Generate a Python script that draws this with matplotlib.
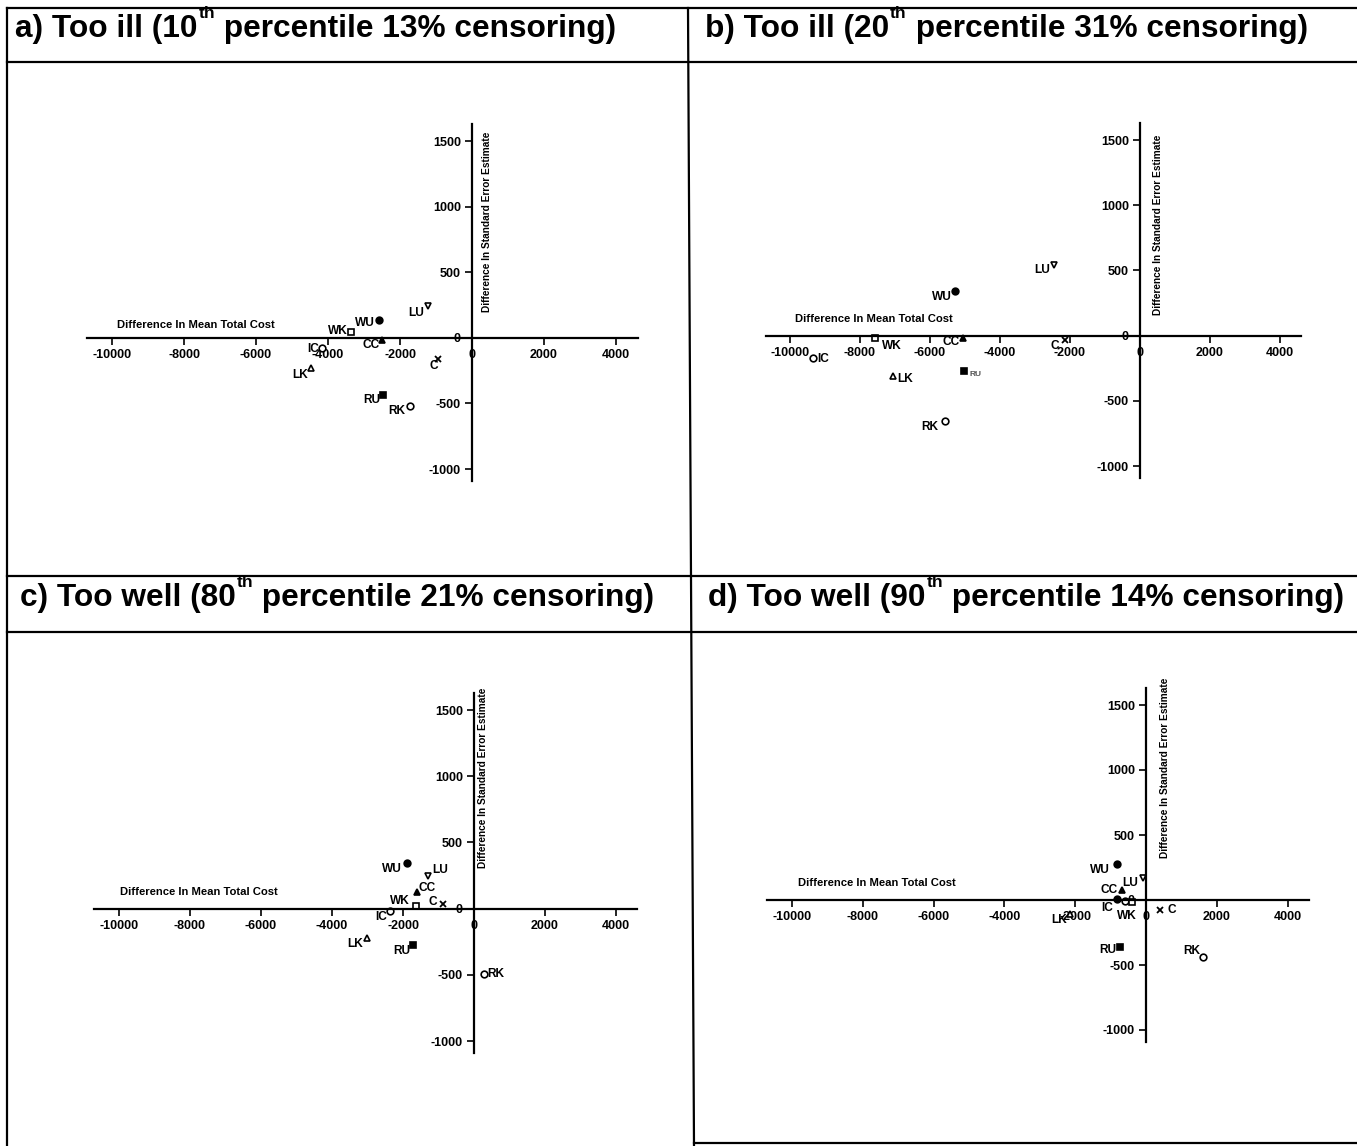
import matplotlib
matplotlib.use("Agg")
import matplotlib.pyplot as plt
from matplotlib.lines import Line2D

W, H = 1357, 1146
FONT = "Liberation Sans"

# ---- data: (difference in mean total cost, difference in SE estimate) ----
labels_a = ["WU", "LU", "WK", "CC", "IC", "LK", "RU", "RK", "C"]
cost_a = [-2580, -1220, -3360, -2500, -4170, -4470, -2470, -1720, -940]
se_a = [135, 245, 45, -15, -80, -230, -435, -520, -160]

labels_b = ["LU", "WU", "WK", "CC", "IC", "LK", "RU", "RK", "C"]
cost_b = [-2460, -5290, -7570, -5060, -9340, -7060, -5030, -5570, -2140]
se_b = [540, 340, -20, -20, -170, -310, -270, -655, -35]

labels_c = ["WU", "LU", "CC", "WK", "C", "IC", "LK", "RU", "RK"]
cost_c = [-1890, -1300, -1610, -1630, -870, -2370, -3010, -1720, 280]
se_c = [345, 245, 125, 20, 35, -20, -220, -275, -494]

labels_d = ["WU", "LU", "CC", "IC", "", "WK", "C", "LK", "RU", "RK"]
cost_d = [-820, -85, -680, -820, -590, -395, 395, -2150, -735, 1610]
se_d = [275, 170, 75, 10, -5, -15, -75, -110, -360, -440]

x_ticks = [-10000, -8000, -6000, -4000, -2000, 0, 2000, 4000]
y_ticks = [-1000, -500, 0, 500, 1000, 1500]

titles = [
    ("a) Too ill (10", "th", " percentile 13% censoring)"),
    ("b) Too ill (20", "th", " percentile 31% censoring)"),
    ("c) Too well (80", "th", " percentile 21% censoring)"),
    ("d) Too well (90", "th", " percentile 14% censoring)"),
]

# marker style for each estimator code: (marker, filled)
styles = {
    "WU": ("o", True), "LU": ("v", False), "WK": ("s", False),
    "CC": ("^", True), "IC": ("o", False), "LK": ("^", False),
    "RU": ("s", True), "RK": ("o", False), "C": ("x", True),
    "": ("o", False),
}

# label placement (dx, dy in pixels, horizontal alignment)
offs_a = {"WU": (-4, -3, "right"), "LU": (-4, -7, "right"), "WK": (-3, 1, "right"),
          "CC": (-2, -5, "right"), "IC": (-3, -1, "right"), "LK": (-3, -7, "right"),
          "RU": (-3, -5, "right"), "RK": (-5, -5, "right"), "C": (0, -7, "right")}
offs_b = {"LU": (-4, -5, "right"), "WU": (-3, -6, "right"), "WK": (7, -8, "left"),
          "CC": (-3, -4, "right"), "IC": (4, -1, "left"), "LK": (4, -3, "left"),
          "RU": (6, -4, "left"), "RK": (-7, -6, "right"), "C": (-6, -6, "right")}
offs_c = {"WU": (-5, -6, "right"), "LU": (4, 6, "left"), "CC": (2, 4, "left"),
          "WK": (-6, 5, "right"), "C": (-6, 2, "right"), "IC": (-3, -6, "right"),
          "LK": (-4, -6, "right"), "RU": (-3, -6, "right"), "RK": (3, 0, "left")}
offs_d = {"WU": (-7, -6, "right"), "LU": (-5, -5, "right"), "CC": (-4, 0, "right"),
          "IC": (-4, -9, "right"), "": (0, 0, "left"), "WK": (-5, -14, "center"),
          "C": (8, 0, "left"), "LK": (-3, -6, "right"), "RU": (-4, -3, "right"),
          "RK": (-3, 6, "right")}
fill_override_d = {"IC": True}

fig = plt.figure(figsize=(W / 100, H / 100), dpi=100)
fig.patch.set_facecolor("white")

XLIM = (-11200, 5200)
YLIM = (-1250, 1750)
TICK_FS = 9.0
LABEL_FS = 8.6


def panel_axes(x0, px_x, y0, px_y):
    """x0,y0: pixel of the origin; px_x: pixels per 1000 cost; px_y: pixels per 500 SE."""
    left = x0 + XLIM[0] * px_x / 1000
    right = x0 + XLIM[1] * px_x / 1000
    top = y0 - YLIM[1] * px_y / 500
    bottom = y0 - YLIM[0] * px_y / 500
    ax = fig.add_axes([left / W, 1 - bottom / H, (right - left) / W, (bottom - top) / H])
    ax.set_xlim(*XLIM)
    ax.set_ylim(*YLIM)
    ax.patch.set_alpha(0)
    for s in ("top", "right"):
        ax.spines[s].set_visible(False)
    ax.spines["left"].set_position(("data", 0))
    ax.spines["bottom"].set_position(("data", 0))
    ax.spines["left"].set_bounds(-1090, 1630)
    ax.spines["bottom"].set_bounds(-10700, 4600)
    for s in ("left", "bottom"):
        ax.spines[s].set_linewidth(1.6)
    ax.set_xticks(x_ticks)
    ax.set_yticks(y_ticks)
    ax.set_xticklabels([str(v) for v in x_ticks])
    ax.set_yticklabels([str(v) for v in y_ticks])
    ax.tick_params(direction="out", length=5, width=1.2, pad=3)
    for lab in ax.get_xticklabels() + ax.get_yticklabels():
        lab.set_fontfamily(FONT)
        lab.set_fontweight("bold")
        lab.set_fontsize(TICK_FS)
    return ax


def draw_points(ax, labels, xs, ys, offs, fill_override=None, small=()):
    for lab, x, y in zip(labels, xs, ys):
        mk, filled = styles[lab]
        if fill_override and lab in fill_override:
            filled = fill_override[lab]
        if mk == "x":
            ax.plot([x], [y], marker="x", ms=5, mew=1.3, color="black", ls="none")
        else:
            ax.plot([x], [y], marker=mk, ms=4.8, mew=1.2, ls="none",
                    mec="black", mfc="black" if filled else "white")
        if lab:
            dx, dy, ha = offs[lab]
            ax.annotate(lab, (x, y), xytext=(dx, dy), textcoords="offset pixels",
                        ha=ha, va="center", fontfamily=FONT, fontweight="bold",
                        fontsize=6 if lab in small else LABEL_FS,
                        color="#555555" if lab in small else "black")


def axis_titles(ax, xl, yl):
    ax.text(xl[0], xl[1], "Difference In Mean Total Cost", ha="left", va="center",
            fontfamily=FONT, fontweight="bold", fontsize=8.1)
    ax.text(yl[0], yl[1], "Difference In Standard Error Estimate", rotation=90,
            rotation_mode="anchor", ha="left", va="center",
            fontfamily=FONT, fontweight="bold", fontsize=7.3)


ax_a = panel_axes(472, 36.0, 337.8, 65.6)
draw_points(ax_a, labels_a, cost_a, se_a, offs_a)
axis_titles(ax_a, (-9860, 98), (417, 197))

ax_b = panel_axes(1140, 35.0, 335.6, 65.2)
draw_points(ax_b, labels_b, cost_b, se_b, offs_b, small=("RU",))
axis_titles(ax_b, (-9860, 127), (514, 158))

ax_c = panel_axes(474, 35.5, 908.6, 66.2)
draw_points(ax_c, labels_c, cost_c, se_c, offs_c)
axis_titles(ax_c, (-9970, 125), (254, 307))

ax_d = panel_axes(1146, 35.4, 900, 65.0)
draw_points(ax_d, labels_d, cost_d, se_d, offs_d, fill_override=fill_override_d)
axis_titles(ax_d, (-9830, 131), (537, 323))

# ---- table frame in pixel coordinates ----
frame = fig.add_axes([0, 0, 1, 1], zorder=-1)
frame.set_xlim(0, W)
frame.set_ylim(H, 0)
frame.axis("off")
lw = 1.6
frame.add_line(Line2D([7, W], [8, 8], color="black", lw=lw))
frame.add_line(Line2D([7, W], [62, 62], color="black", lw=lw))
frame.add_line(Line2D([7, W], [576, 576], color="black", lw=lw))
frame.add_line(Line2D([7, W], [632, 632], color="black", lw=lw))
frame.add_line(Line2D([694, W], [1143, 1143], color="black", lw=lw))
frame.add_line(Line2D([7, 7], [8, H], color="black", lw=lw))
frame.add_line(Line2D([688, 694], [8, H], color="black", lw=lw))

# ---- titles with superscript ordinal ----
fig.canvas.draw()
renderer = fig.canvas.get_renderer()
TS = 22.8


def title(x, yb, parts):
    pre, sup, post = parts
    t1 = fig.text(x / W, 1 - yb / H, pre, fontsize=TS, fontweight="bold",
                  fontfamily=FONT, va="baseline", ha="left")
    bb = t1.get_window_extent(renderer)
    t2 = fig.text((bb.x1 + 1) / W, 1 - (yb - 19) / H, sup, fontsize=TS * 0.55,
                  fontweight="bold", fontfamily=FONT, va="baseline", ha="left")
    bb2 = t2.get_window_extent(renderer)
    fig.text(bb2.x1 / W, 1 - yb / H, post, fontsize=TS, fontweight="bold",
             fontfamily=FONT, va="baseline", ha="left")


title(15, 37, titles[0])
title(705, 37, titles[1])
title(20, 606, titles[2])
title(708, 606, titles[3])

fig.savefig("out.png", dpi=100, facecolor="white")
